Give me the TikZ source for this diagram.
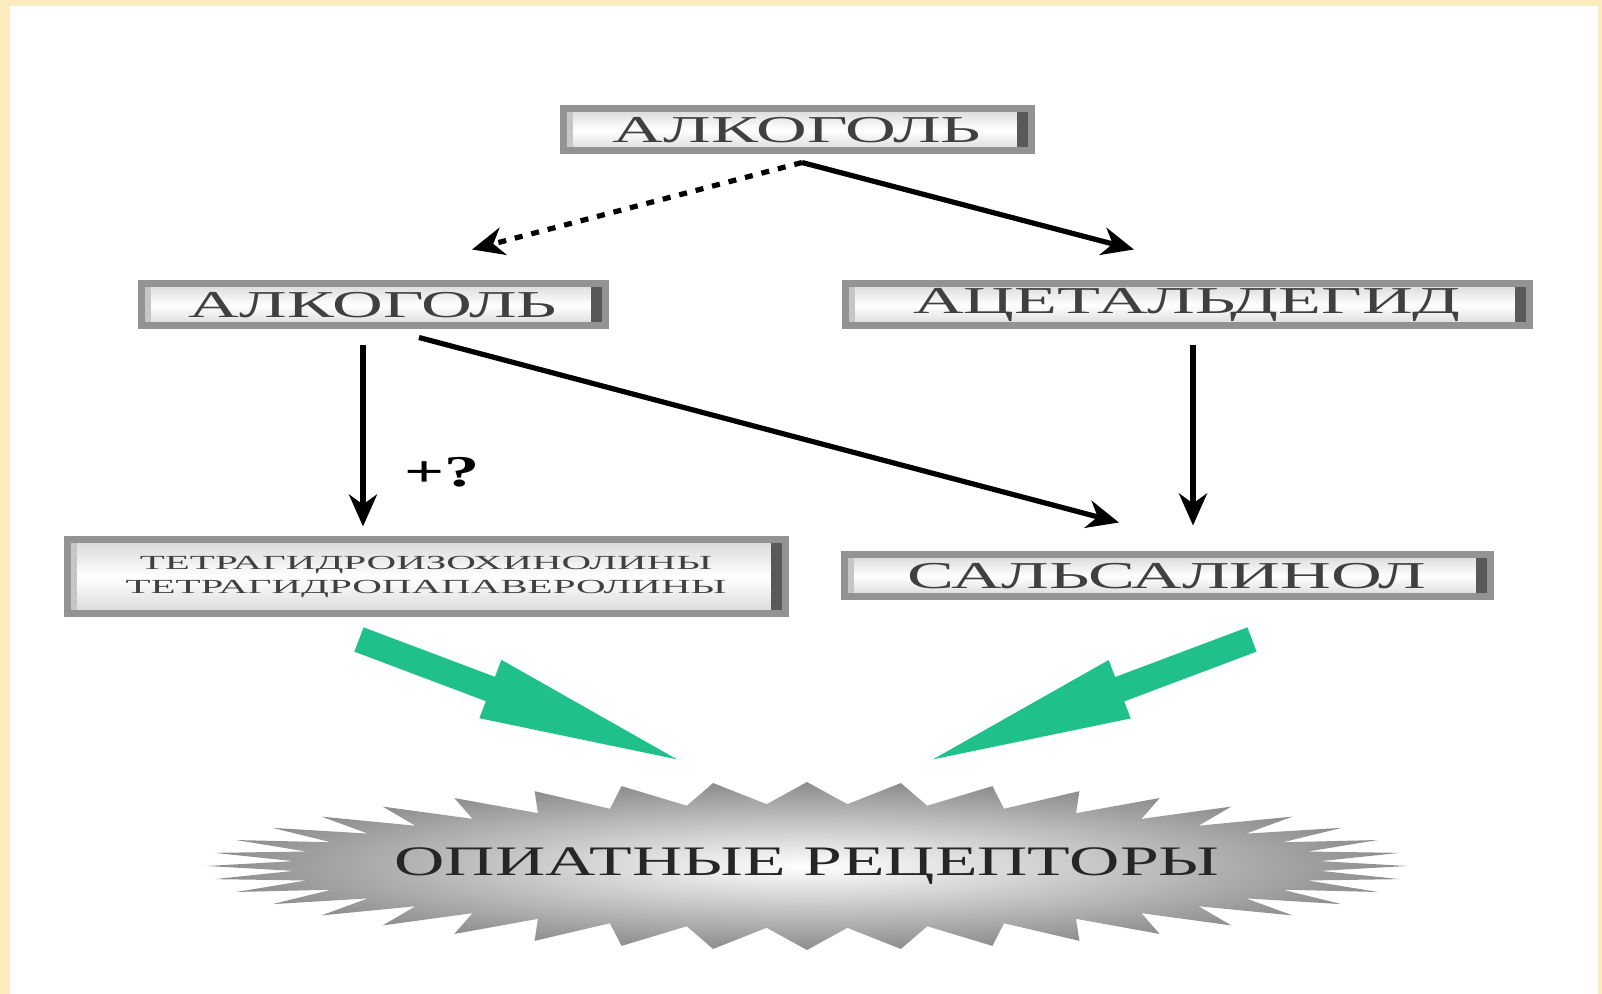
\documentclass[tikz,border=0pt]{standalone}
\usepackage{fontspec}
\usepackage{tikz}
\usetikzlibrary{arrows.meta,calc}
\setmainfont{Liberation Serif}
\newfontfamily\platefont[FakeStretch=1.85]{Liberation Serif}
\newfontfamily\smallplatefont[FakeStretch=2.05]{Liberation Serif}
\newfontfamily\burstfont[FakeStretch=1.66]{Liberation Serif}
\newfontfamily\markfont[FakeStretch=1.6]{Liberation Serif}
\definecolor{framebeige}{RGB}{251,235,190}
\definecolor{rayGreen}{RGB}{32,192,138}
\tikzset{
  plate/.style={draw=gray!85, line width=3.5pt, inner sep=0pt, minimum height=21pt,
                top color=gray!30, bottom color=gray!30, middle color=white,
                text=black!75, font=\platefont\fontsize{19}{21}\selectfont,
                path picture={
                  \fill[gray!45] (path picture bounding box.north west) rectangle ([xshift=5pt]path picture bounding box.south west);
                  \fill[black!65] (path picture bounding box.north east) rectangle ([xshift=-7pt]path picture bounding box.south east);}},
  arr/.style={-{Stealth[length=16pt,width=14pt,inset=5pt]}, line width=2.6pt},
  fat/.style={line width=13pt, rayGreen, -{Triangle[length=112pt,width=27pt]}}}

\begin{document}
\begin{tikzpicture}[x=0.5pt, y=-0.5pt]
  % frame
  \fill[framebeige] (0,0) rectangle (1602,994);
  \fill[white] (10,6) rectangle (1598,994);
  \useasboundingbox (0,0) rectangle (1602,994);

  \node[plate, minimum width=234pt] (alc) at (797,130) {АЛКОГОЛЬ};
  \node[plate, minimum width=232pt] (alc2) at (373,305) {АЛКОГОЛЬ};
  \node[plate, minimum width=342pt] (acet) at (1187,305) {АЦЕТАЛЬДЕГИД};
  \node[plate, minimum width=359pt, minimum height=37pt, align=center,
        font=\smallplatefont\fontsize{10}{12}\selectfont] (thiq) at (426,577)
        {ТЕТРАГИДРОИЗОХИНОЛИНЫ\\ТЕТРАГИДРОПАПАВЕРОЛИНЫ};
  \node[plate, minimum width=323pt] (sals) at (1167,576) {САЛЬСАЛИНОЛ};

  % starburst
  \coordinate (burstc) at (807,866);
  \shade[inner color=white, outer color=gray!90] ($(burstc)+(600,0)$)
    \foreach \k in {1,...,40}{
      -- ($(burstc)+({515*cos(\k*9-4.5)},{62*sin(\k*9-4.5)})$)
      -- ($(burstc)+({600*cos(\k*9)},{84*sin(\k*9)})$)} -- cycle;
  \node[text=black!85, font=\burstfont\fontsize{21}{23}\selectfont] (burst) at (burstc) {ОПИАТНЫЕ РЕЦЕПТОРЫ};

  \draw[arr, dash pattern=on 4pt off 4.5pt] ($(alc.south)+(5,8)$) -- ($(alc2.north)+(99,-31)$);
  \draw[arr] ($(alc.south)+(5,8)$) -- ($(acet.north)+(-53,-31)$);
  \draw[arr] ($(alc2.south)+(-10,16)$) -- node[pos=0.7, right=16pt, font=\markfont\bfseries\fontsize{22}{24}\selectfont] (plusq) {+?} ($(thiq.north)+(-63,-10)$);
  \draw[arr] ($(alc2.south)+(46,8)$) -- ($(sals.north)+(-48,-29)$);
  \draw[arr] ($(acet.south)+(6,16)$) -- ($(sals.north)+(26,-26)$);

  \draw[fat] ($(thiq.south)+(-67,22)$) -- ($(burst)+(-107,-98)$);
  \draw[fat] ($(sals.south)+(85,39)$) -- ($(burst)+(103,-98)$);
\end{tikzpicture}
\end{document}
